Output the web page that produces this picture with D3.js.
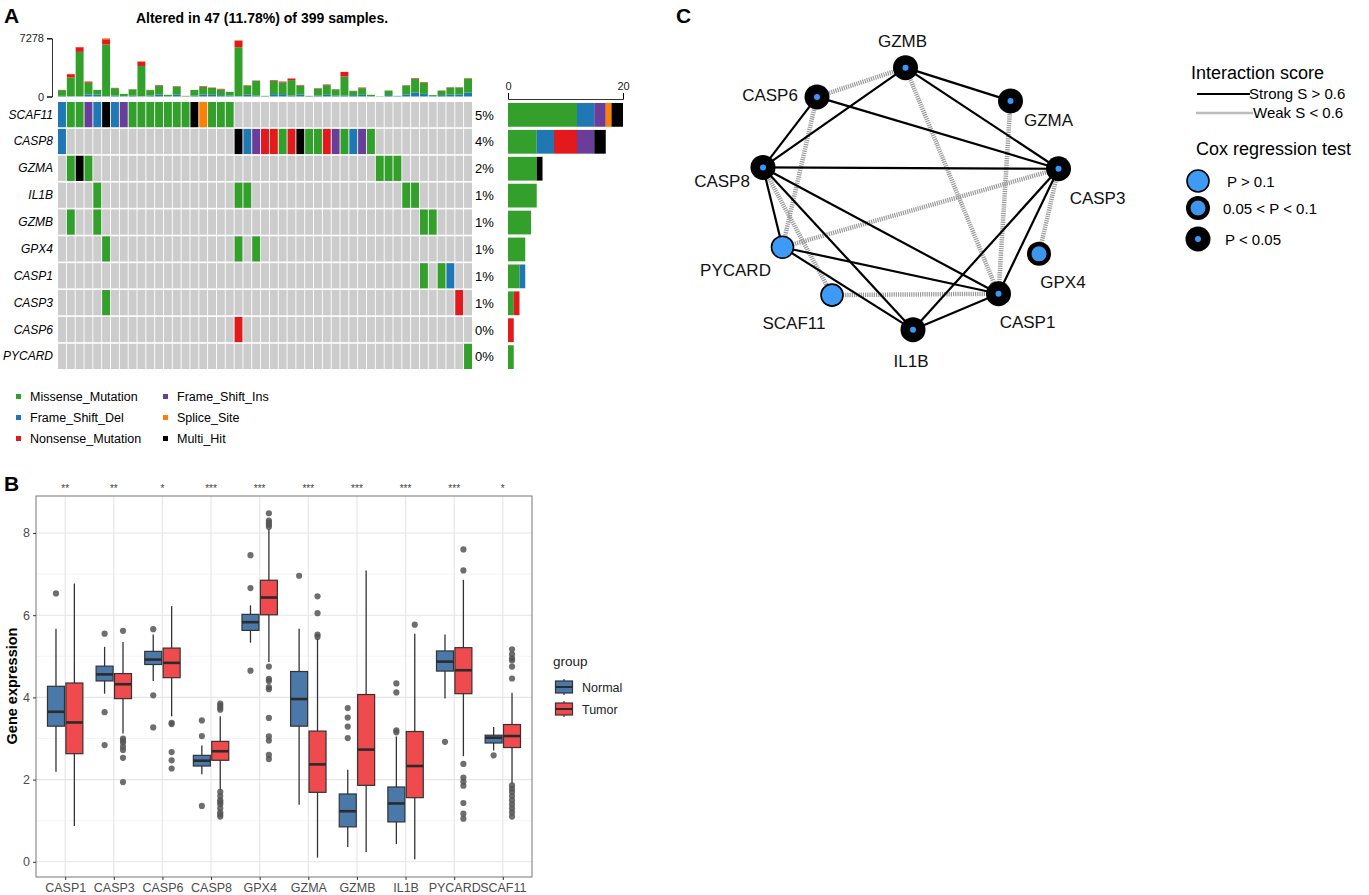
<!DOCTYPE html>
<html>
<head><meta charset="utf-8">
<title>Pyroptosis genes: mutations, expression, network</title>
<style>
body { margin:0; background:#fff; }
svg { font-family: "Liberation Sans", Arial, sans-serif; }
</style>
</head>
<body>
<svg id="fig" width="1369" height="895"></svg>
<script src="https://d3js.org/d3.v7.min.js"></script>
<script>
// ---------- panel A: oncoplot ----------
var genes = ["SCAF11","CASP8","GZMA","IL1B","GZMB","GPX4","CASP1","CASP3","CASP6","PYCARD"];
var genePct = ["5%","4%","2%","1%","1%","1%","1%","1%","0%","0%"];
// one char per sample (47): G missense, B frame del, R nonsense, P frame ins, O splice, K multi hit
var mutSCAF11 = ["BGGPBKBPGG","GGGGGKOGGG","..........","..........","......."];
var mutCASP8  = ["B.........","..........","KBPRRGRKGG","RPGBPG....","......."];
var mutGZMA   = [".GKG......","..........","..........","......GGG.","......."];
var mutIL1B   = ["....G.....","..........","GG........",".........G","G......"];
var mutGZMB   = [".G..G.....","..........","..........","..........",".GG...."];
var mutGPX4   = [".....G....","..........","G.G.......","..........","......."];
var mutCASP1  = ["..........","..........","..........","..........",".G.GB.."];
var mutCASP3  = [".....G....","..........","..........","..........",".....R."];
var mutCASP6  = ["..........","..........","R.........","..........","......."];
var mutPYCARD = ["..........","..........","..........","..........","......G"];
var mutRows = [mutSCAF11, mutCASP8, mutGZMA, mutIL1B, mutGZMB, mutGPX4, mutCASP1, mutCASP3, mutCASP6, mutPYCARD];

// per-sample mutation burden, split by type
var tmbFrameDel = [80,40,40,250,250,40,120,40,120,40,120,250,40,250,0,120,250,210,170,120,40,250,120,0,290,290,120,250,0,120,210,120,120,170,210,40,0,170,40,250,500,330,40,170,250,250,500];
var tmbMissense = [710,2330,5540,1470,580,6458,920,290,755,3780,670,1080,170,1000,80,710,960,870,710,460,6120,1120,1840,80,1670,1460,1930,1080,80,880,1210,755,2380,500,830,170,40,580,40,1120,1710,1380,130,540,870,870,1750];
var tmbNonsense = [40,420,580,150,0,660,40,0,40,540,40,80,0,40,0,0,80,40,80,0,830,40,40,0,80,120,200,80,0,40,80,40,580,40,80,0,0,0,0,40,80,80,0,40,40,40,40];
var tmbSplice   = [0,40,40,0,0,120,0,0,0,40,0,0,0,0,0,0,0,0,0,0,40,0,0,0,0,0,0,0,0,0,0,0,0,0,0,0,0,0,0,0,0,0,0,0,0,0,0];
var tmbMax = 7278;

var mutTypes = ["G","B","R","P","O","K"];
var mutNames = {G:"Missense_Mutation",B:"Frame_Shift_Del",R:"Nonsense_Mutation",P:"Frame_Shift_Ins",O:"Splice_Site",K:"Multi_Hit"};
var mutColor = {G:"#33a02c",B:"#1f78b4",R:"#e31a1c",P:"#6a3d9a",O:"#ff7f00",K:"#000000"};
var legendOrder = ["G","P","B","O","R","K"];

// ---------- panel B: expression boxplots ----------
var boxGenes = ["CASP1","CASP3","CASP6","CASP8","GPX4","GZMA","GZMB","IL1B","PYCARD","SCAF11"];
var sigStars = ["**","**","*","***","***","***","***","***","***","*"];
// [lower whisker, Q1, median, Q3, upper whisker]
var normalStats = [[2.19,3.30,3.65,4.27,5.67],[4.09,4.40,4.56,4.76,5.23],[4.40,4.80,4.92,5.12,5.53],[2.13,2.33,2.46,2.59,2.83],[5.33,5.63,5.83,6.02,6.24],
                   [1.39,3.30,3.96,4.63,5.67],[0.36,0.85,1.23,1.65,2.24],[0.43,0.97,1.42,1.82,3.05],[3.97,4.64,4.87,5.13,5.53],[2.71,2.89,3.02,3.08,3.28]];
var tumorStats  = [[0.87,2.63,3.39,4.35,6.77],[3.12,3.97,4.32,4.58,5.35],[3.54,4.48,4.84,5.20,6.22],[1.74,2.47,2.69,2.93,3.54],[4.86,6.01,6.43,6.85,8.10],
                   [0.10,1.69,2.37,3.18,5.43],[0.24,1.86,2.73,4.07,7.09],[0.06,1.56,2.33,3.17,5.55],[2.57,4.09,4.66,5.21,6.86],[1.90,2.78,3.06,3.34,4.11]];
var normalOut = [[6.53],[5.55,3.64,2.84],[5.66,4.05,3.27],[3.44,3.06,1.36],[7.46,6.66,4.65],[6.96],[3.74,3.51,3.29,3.01],[4.34,4.12,3.2,3.15],[2.92],[2.59]];
var tumorOut  = [[],[5.62,3.0,2.95,2.9,2.8,2.72,2.53,1.94],[3.38,3.35,2.67,2.47,2.27],
                 [3.85,3.8,3.75,3.7,1.7,1.6,1.5,1.45,1.4,1.3,1.2,1.15,1.1],
                 [8.48,8.3,8.25,8.2,8.15,4.75,4.45,4.4,4.25,4.2,3.5,3.05,2.95,2.6,2.5],
                 [6.46,6.05,5.53,5.47],[],[5.77],[7.6,7.09,2.38,2.05,1.95,1.85,1.43,1.17,1.05],
                 [5.17,5.05,4.95,4.9,4.75,4.46,1.86,1.78,1.7,1.6,1.5,1.4,1.3,1.2,1.1]];
var groups = ["Normal","Tumor"];
var groupColor = {Normal:"#4a78a8", Tumor:"#ef4a4d"};

// ---------- panel C: interaction network ----------
var netNodes = ["GZMB","GZMA","CASP3","GPX4","CASP1","IL1B","SCAF11","PYCARD","CASP8","CASP6"];
var netCox   = ["sig","sig","sig","mid","sig","sig","ns","ns","sig","sig"];
var strongEdges = [["GZMB","GZMA"],["GZMB","CASP3"],["GZMB","CASP8"],["CASP6","CASP3"],["CASP6","CASP8"],["CASP8","CASP3"],
                   ["CASP8","PYCARD"],["CASP8","IL1B"],["CASP8","CASP1"],["CASP3","IL1B"],["CASP3","CASP1"],
                   ["PYCARD","CASP1"],["PYCARD","IL1B"],["IL1B","CASP1"]];
var weakEdges = [["GZMB","CASP6"],["GZMB","CASP1"],["GZMA","CASP1"],["CASP3","GPX4"],["CASP3","PYCARD"],
                 ["CASP6","PYCARD"],["CASP8","SCAF11"],["SCAF11","CASP1"]];
// layout (unit ellipse coords), label offsets
var nodeLayout = {GZMB:[-0.03,-0.98],GZMA:[0.67,-0.73],CASP3:[0.99,-0.22],GPX4:[0.86,0.42],CASP1:[0.59,0.72],
                  IL1B:[0.02,0.99],SCAF11:[-0.52,0.73],PYCARD:[-0.85,0.37],CASP8:[-0.98,-0.23],CASP6:[-0.62,-0.76]};
var labelOff = {GZMB:[-3,-21],GZMA:[38,25],CASP3:[39,35],GPX4:[24,34],CASP1:[29,34],IL1B:[-2,37],
                SCAF11:[-38,34],PYCARD:[-47,29],CASP8:[-41,20],CASP6:[-47,4]};

var svg = d3.select("#fig");

// panel letters
svg.append("text").attr("x",4).attr("y",23).attr("font-size",21).attr("font-weight","bold").text("A");
svg.append("text").attr("x",4).attr("y",491).attr("font-size",21).attr("font-weight","bold").text("B");
svg.append("text").attr("x",676).attr("y",23).attr("font-size",21).attr("font-weight","bold").text("C");

// ======== A ========
var gA = svg.append("g");
gA.append("text").attr("x",262).attr("y",23).attr("text-anchor","middle")
  .attr("font-size",14).attr("font-weight","bold").text("Altered in 47 (11.78%) of 399 samples.");

var nS = tmbMissense.length;
var xCol = d3.scaleBand().domain(d3.range(nS)).range([58,472]).paddingInner(0.1);
var yRow = d3.scaleBand().domain(genes).range([102,369]).paddingInner(0.06);

// top bars
var tmbRows = d3.range(nS).map(function(i){
  return {i:i, B:tmbFrameDel[i], G:tmbMissense[i], R:tmbNonsense[i], O:tmbSplice[i]};
});
var tmbStack = d3.stack().keys(["B","G","R","O"])(tmbRows);
var yTmb = d3.scaleLinear().domain([0,tmbMax]).range([96.5,38.3]);
gA.append("g").selectAll("g").data(tmbStack).join("g")
  .attr("fill", function(s){ return mutColor[s.key]; })
  .selectAll("rect").data(function(s){ return s; }).join("rect")
  .attr("x", function(d){ return xCol(d.data.i); })
  .attr("width", xCol.bandwidth())
  .attr("y", function(d){ return yTmb(d[1]); })
  .attr("height", function(d){ return Math.max(0, yTmb(d[0]) - yTmb(d[1])); });
var axTmb = gA.append("g").attr("transform","translate(52,0)")
  .call(d3.axisLeft(yTmb).tickValues([0,tmbMax]).tickSize(5).tickFormat(d3.format("d")));
axTmb.select(".domain").attr("stroke","#333");
axTmb.selectAll("text").attr("font-size",11).attr("fill","#222").attr("font-family","Liberation Sans, Arial");

// matrix
var cells = [];
genes.forEach(function(g, r){
  var s = mutRows[r].join("");
  for (var i = 0; i < s.length; i++) cells.push({g:g, i:i, t:s[i]});
});
gA.append("g").selectAll("rect").data(cells).join("rect")
  .attr("x", function(d){ return xCol(d.i); })
  .attr("y", function(d){ return yRow(d.g); })
  .attr("width", xCol.bandwidth()).attr("height", yRow.bandwidth())
  .attr("fill", function(d){ return d.t === "." ? "#cccccc" : mutColor[d.t]; });

gA.append("g").selectAll("text").data(genes).join("text")
  .attr("x",53).attr("y", function(g){ return yRow(g) + yRow.bandwidth()/2 + 4; })
  .attr("text-anchor","end").attr("font-size",12).attr("font-style","italic").text(function(g){ return g; });
gA.append("g").selectAll("text").data(genePct).join("text")
  .attr("x",475).attr("y", function(p,i){ return yRow(genes[i]) + yRow.bandwidth()/2 + 5; })
  .attr("font-size",13).text(function(p){ return p; });

// right bars: per-gene counts by type
var yBar = d3.scaleBand().domain(genes).range([102,369]).paddingInner(0.08);
var xCount = d3.scaleLinear().domain([0,20]).range([508,623]);
var countRows = genes.map(function(g, r){
  var s = mutRows[r].join(""), o = {g:g};
  mutTypes.forEach(function(t){ o[t] = s.split(t).length - 1; });
  return o;
});
var countStack = d3.stack().keys(["G","B","R","P","O","K"])(countRows);
gA.append("g").selectAll("g").data(countStack).join("g")
  .attr("fill", function(s){ return mutColor[s.key]; })
  .selectAll("rect").data(function(s){ return s; }).join("rect")
  .attr("y", function(d){ return yBar(d.data.g) + 1; })
  .attr("height", yBar.bandwidth() - 1)
  .attr("x", function(d){ return xCount(d[0]); })
  .attr("width", function(d){ return xCount(d[1]) - xCount(d[0]); });
var axCnt = gA.append("g").attr("transform","translate(0,99)")
  .call(d3.axisTop(xCount).tickValues([0,20]).tickSize(6));
axCnt.select(".domain").attr("stroke","#333");
axCnt.selectAll("text").attr("font-size",11).attr("fill","#222").attr("font-family","Liberation Sans, Arial");

// legend A
var legA = gA.append("g").selectAll("g").data(legendOrder).join("g")
  .attr("transform", function(t,i){ return "translate(" + (i%2 ? 163 : 16) + "," + (396 + Math.floor(i/2)*21) + ")"; });
legA.append("rect").attr("x",0).attr("y",-2).attr("width",5).attr("height",5).attr("fill", function(t){ return mutColor[t]; });
legA.append("text").attr("x",14).attr("y",4.5).attr("font-size",12.5).text(function(t){ return mutNames[t]; });

// ======== B ========
var gB = svg.append("g");
var px0 = 36, px1 = 532, py0 = 496, py1 = 877;
var xB = d3.scalePoint().domain(boxGenes).range([px0,px1]).padding(0.6);
var yB = d3.scaleLinear().domain([-0.37,8.9]).range([py1,py0]);
var dodge = 9.2, boxW = 17;

gB.append("g").selectAll("line").data([1,3,5,7]).join("line")
  .attr("x1",px0).attr("x2",px1).attr("y1",yB).attr("y2",yB).attr("stroke","#f2f2f2").attr("stroke-width",0.8);
gB.append("g").selectAll("line").data([0,2,4,6,8]).join("line")
  .attr("x1",px0).attr("x2",px1).attr("y1",yB).attr("y2",yB).attr("stroke","#e5e5e5").attr("stroke-width",1.1);
gB.append("g").selectAll("line").data(boxGenes).join("line")
  .attr("y1",py0).attr("y2",py1).attr("x1",function(g){ return xB(g); }).attr("x2",function(g){ return xB(g); })
  .attr("stroke","#e5e5e5").attr("stroke-width",1.1);

var boxes = [];
boxGenes.forEach(function(g, i){
  boxes.push({g:g, grp:"Normal", s:normalStats[i], out:normalOut[i], dx:-dodge});
  boxes.push({g:g, grp:"Tumor", s:tumorStats[i], out:tumorOut[i], dx:dodge});
});
var bx = gB.append("g").selectAll("g").data(boxes).join("g")
  .attr("transform", function(d){ return "translate(" + (xB(d.g) + d.dx) + ",0)"; });
bx.append("line").attr("x1",0).attr("x2",0).attr("y1",function(d){ return yB(d.s[0]); }).attr("y2",function(d){ return yB(d.s[4]); })
  .attr("stroke","#333").attr("stroke-width",1.3);
bx.append("rect").attr("x",-boxW/2).attr("width",boxW)
  .attr("y",function(d){ return yB(d.s[3]); }).attr("height",function(d){ return yB(d.s[1]) - yB(d.s[3]); })
  .attr("fill",function(d){ return groupColor[d.grp]; }).attr("stroke","#333").attr("stroke-width",1.2);
bx.append("line").attr("x1",-boxW/2).attr("x2",boxW/2).attr("y1",function(d){ return yB(d.s[2]); }).attr("y2",function(d){ return yB(d.s[2]); })
  .attr("stroke","#2b2b2b").attr("stroke-width",2.6);
bx.selectAll("circle").data(function(d){ return d.out; }).join("circle")
  .attr("cx",0).attr("cy",function(v){ return yB(v); }).attr("r",3.1).attr("fill","#555").attr("fill-opacity",0.85);

gB.append("rect").attr("x",px0).attr("y",py0).attr("width",px1-px0).attr("height",py1-py0)
  .attr("fill","none").attr("stroke","#777").attr("stroke-width",1);

var axYB = gB.append("g").attr("transform","translate(" + px0 + ",0)")
  .call(d3.axisLeft(yB).tickValues([0,2,4,6,8]).tickSize(3));
axYB.select(".domain").remove();
axYB.selectAll("line").attr("stroke","#333");
axYB.selectAll("text").attr("font-size",12.5).attr("fill","#4d4d4d").attr("font-family","Liberation Sans, Arial");
var axXB = gB.append("g").attr("transform","translate(0," + py1 + ")")
  .call(d3.axisBottom(xB).tickSize(3));
axXB.select(".domain").remove();
axXB.selectAll("line").attr("stroke","#333");
axXB.selectAll("text").attr("font-size",12.5).attr("fill","#4d4d4d").attr("y",14.5).attr("dy",null)
  .attr("font-family","Liberation Sans, Arial");

gB.append("g").selectAll("text").data(sigStars).join("text")
  .attr("x",function(s,i){ return xB(boxGenes[i]); }).attr("y",492)
  .attr("text-anchor","middle").attr("font-size",10).attr("fill","#444").text(function(s){ return s; });

gB.append("text").attr("transform","translate(17,686) rotate(-90)").attr("text-anchor","middle")
  .attr("font-size",14.5).attr("font-weight","bold").text("Gene expression");

gB.append("text").attr("x",553).attr("y",666).attr("font-size",13.5).attr("fill","#222").text("group");
var legB = gB.append("g").selectAll("g").data(groups).join("g")
  .attr("transform", function(g,i){ return "translate(564," + (687 + i*22) + ")"; });
legB.append("line").attr("x1",0).attr("x2",0).attr("y1",-8).attr("y2",8).attr("stroke","#333").attr("stroke-width",1.2);
legB.append("rect").attr("x",-8.5).attr("y",-6).attr("width",17).attr("height",12)
  .attr("fill",function(g){ return groupColor[g]; }).attr("stroke","#333").attr("stroke-width",1.2);
legB.append("line").attr("x1",-8.5).attr("x2",8.5).attr("y1",0).attr("y2",0).attr("stroke","#2b2b2b").attr("stroke-width",2);
legB.append("text").attr("x",18).attr("y",4.5).attr("font-size",12.5).attr("fill","#222").text(function(g){ return g; });

// ======== C ========
var gC = svg.append("g");
var xN = d3.scaleLinear().domain([-1,1]).range([760,1060]);
var yN = d3.scaleLinear().domain([-1,1]).range([65,331]);
function nx(n){ return xN(nodeLayout[n][0]); }
function ny(n){ return yN(nodeLayout[n][1]); }

gC.append("g").selectAll("line").data(weakEdges).join("line")
  .attr("x1",function(e){ return nx(e[0]); }).attr("y1",function(e){ return ny(e[0]); })
  .attr("x2",function(e){ return nx(e[1]); }).attr("y2",function(e){ return ny(e[1]); })
  .attr("stroke","#9a9a9a").attr("stroke-width",4.5).attr("stroke-dasharray","1.2,1");
gC.append("g").selectAll("line").data(strongEdges).join("line")
  .attr("x1",function(e){ return nx(e[0]); }).attr("y1",function(e){ return ny(e[0]); })
  .attr("x2",function(e){ return nx(e[1]); }).attr("y2",function(e){ return ny(e[1]); })
  .attr("stroke","#000").attr("stroke-width",2.2);

function drawNode(sel, cox){
  if (cox === "sig") {
    sel.append("circle").attr("r",12.5).attr("fill","#000");
    sel.append("circle").attr("r",3).attr("fill","#3399ff");
  } else if (cox === "mid") {
    sel.append("circle").attr("r",12).attr("fill","#000");
    sel.append("circle").attr("r",7.5).attr("fill","#3d95ec");
  } else {
    sel.append("circle").attr("r",11).attr("fill","#3d9bf5").attr("stroke","#000").attr("stroke-width",1.6);
  }
}
netNodes.forEach(function(n, i){
  var g = gC.append("g").attr("transform","translate(" + nx(n) + "," + ny(n) + ")");
  drawNode(g, netCox[i]);
  g.append("text").attr("x",labelOff[n][0]).attr("y",labelOff[n][1]).attr("text-anchor","middle")
    .attr("font-size",17).attr("fill","#111").text(n);
});

// legend C
var lc = gC.append("g");
lc.append("text").attr("x",1191).attr("y",79).attr("font-size",18).text("Interaction score");
lc.append("line").attr("x1",1197).attr("x2",1250).attr("y1",94).attr("y2",94).attr("stroke","#000").attr("stroke-width",2.2);
lc.append("text").attr("x",1249).attr("y",99).attr("font-size",15).text("Strong S > 0.6");
lc.append("line").attr("x1",1196).attr("x2",1253).attr("y1",113).attr("y2",113).attr("stroke","#bdbdbd").attr("stroke-width",2.5);
lc.append("text").attr("x",1253).attr("y",118).attr("font-size",15).text("Weak S < 0.6");
lc.append("text").attr("x",1196).attr("y",155).attr("font-size",18).text("Cox regression test");
var coxLeg = [["ns","P > 0.1",1227],["mid","0.05 < P < 0.1",1223],["sig","P < 0.05",1225]];
coxLeg.forEach(function(c, i){
  var cy = [181,208,239][i];
  var g = lc.append("g").attr("transform","translate(1198," + cy + ")");
  drawNode(g, c[0]);
  lc.append("text").attr("x",c[2]).attr("y",cy + 5.5).attr("font-size",15).text(c[1]);
});
</script>
</body>
</html>
